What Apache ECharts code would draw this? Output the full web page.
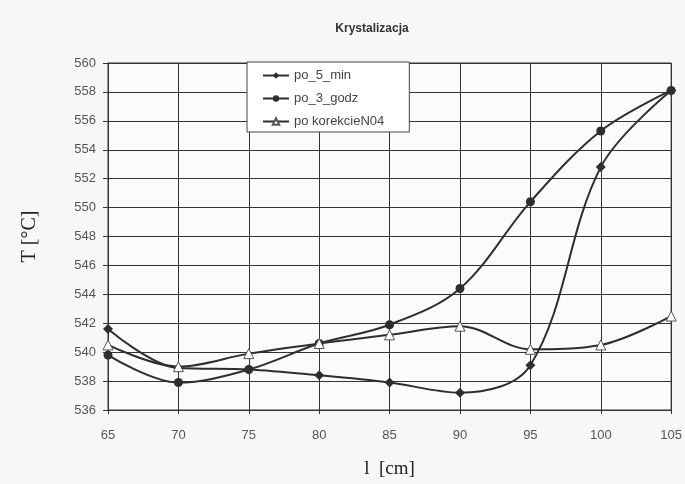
<!DOCTYPE html>
<html><head><meta charset="utf-8">
<script src="https://cdn.jsdelivr.net/npm/echarts@6/dist/echarts.min.js"></script>
<style>html,body{margin:0;padding:0;background:#f7f7f7}#c{width:685px;height:484px}</style>
</head><body><div id="c"></div>
<script>
const lengths = [65, 70, 75, 80, 85, 90, 95, 100, 105];
const po5min = [541.6, 538.9, 538.8, 538.4, 537.9, 537.2, 539.1, 552.8, 558.1];
const po3godz = [539.8, 537.9, 538.8, 540.6, 541.9, 544.4, 550.4, 555.3, 558.1];
const poKorekcie = [540.5, 539.0, 539.9, 540.6, 541.2, 541.8, 540.2, 540.5, 542.5];
const seriesNames = ['po_5_min', 'po_3_godz', 'po korekcieN04'];
const yTicks = [536, 560, 2];
const xTicks = [65, 105, 5];

const pair = arr => lengths.map((x, i) => [x, arr[i]]);
const chart = echarts.init(document.getElementById('c'));
const lineCol = '#2e2e2e';
chart.setOption({
  backgroundColor: '#f7f7f7',
  animation: false,
  title: { text: 'Krystalizacja', left: 367, top: 18, textAlign: 'center',
    textStyle: { fontFamily: 'Liberation Sans', fontSize: 12, fontWeight: 'bold', color: '#333' } },
  grid: { left: 108, right: 13, top: 63, bottom: 72, show: true, borderColor: '#333', borderWidth: 1, backgroundColor: '#fbfbfb' },
  legend: {
    orient: 'vertical', left: 247, top: 62,
    backgroundColor: '#ffffff', borderColor: '#444', borderWidth: 1,
    padding: [7, 25, 4, 15], itemGap: 10, itemWidth: 26, itemHeight: 8,
    textStyle: { fontFamily: 'Liberation Sans', fontSize: 13, lineHeight: 13, color: '#444' },
    data: seriesNames
  },
  xAxis: {
    type: 'value', min: xTicks[0], max: xTicks[1], interval: xTicks[2],
    name: 'l  [cm]', nameLocation: 'middle', nameGap: 50,
    nameTextStyle: { fontFamily: 'Liberation Serif', fontSize: 19, color: '#222' },
    axisLine: { lineStyle: { color: '#333' } },
    axisTick: { show: true, length: 4, lineStyle: { color: '#333' } },
    axisLabel: { fontFamily: 'Liberation Sans', fontSize: 13, color: '#555', margin: 19 },
    splitLine: { show: true, lineStyle: { color: '#333', width: 1 } }
  },
  yAxis: {
    type: 'value', min: yTicks[0], max: yTicks[1], interval: yTicks[2],
    name: 'T [°C]', nameLocation: 'middle', nameGap: 68, nameRotate: 90,
    nameTextStyle: { fontFamily: 'Liberation Serif', fontSize: 20, color: '#222' },
    axisLine: { show: true, lineStyle: { color: '#333' } },
    axisTick: { show: true, length: 5, lineStyle: { color: '#333' } },
    axisLabel: { fontFamily: 'Liberation Sans', fontSize: 13, color: '#555', margin: 12 },
    splitLine: { show: true, lineStyle: { color: '#333', width: 1 } }
  },
  series: [
    { name: seriesNames[0], type: 'line', smooth: 0.35, data: pair(po5min),
      symbol: 'diamond', symbolSize: 10,
      lineStyle: { color: lineCol, width: 2 }, itemStyle: { color: lineCol } },
    { name: seriesNames[1], type: 'line', smooth: 0.35, data: pair(po3godz),
      symbol: 'circle', symbolSize: 9,
      lineStyle: { color: lineCol, width: 2 }, itemStyle: { color: lineCol } },
    { name: seriesNames[2], type: 'line', smooth: 0.35, data: pair(poKorekcie),
      symbol: 'triangle', symbolSize: 10,
      lineStyle: { color: lineCol, width: 2 }, itemStyle: { color: '#ffffff', borderColor: '#555', borderWidth: 1 } }
  ]
});
</script></body></html>
